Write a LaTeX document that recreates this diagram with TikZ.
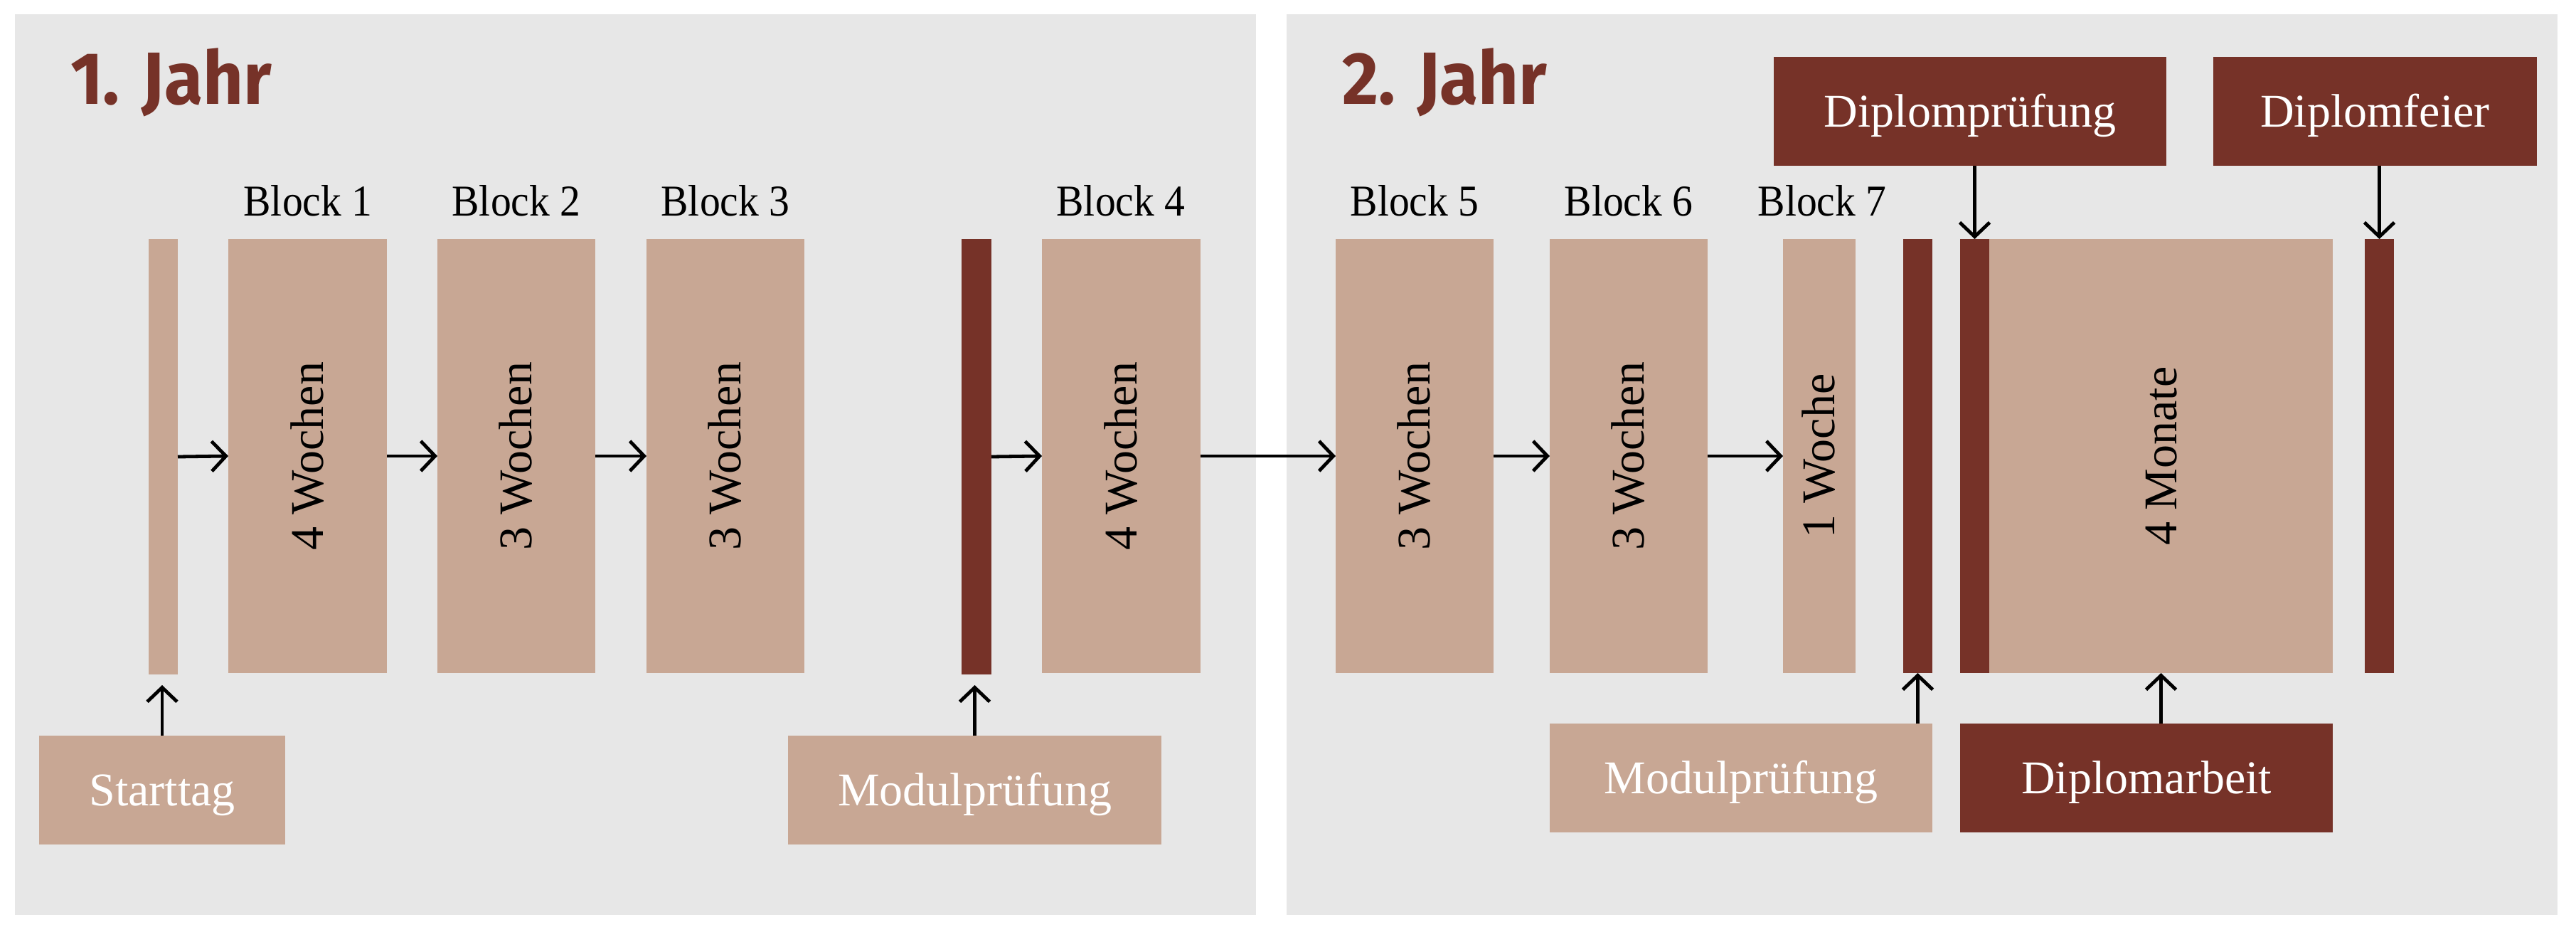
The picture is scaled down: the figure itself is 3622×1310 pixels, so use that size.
\documentclass[tikz,border=0pt]{standalone}
\usepackage{fontspec}
\setmainfont{Liberation Serif}
\newfontfamily\blockfont{Liberation Serif}[FakeStretch=0.93]
\newfontfamily\titlefont{Fira Sans}[FakeStretch=0.95]
\usetikzlibrary{fit,arrows.meta}
\definecolor{panelc}{HTML}{E7E7E7}
\definecolor{lightc}{HTML}{C8A794}
\definecolor{darkc}{HTML}{763228}
\begin{document}
\begin{tikzpicture}[x=0.5pt,y=-0.5pt,
  every node/.style={inner sep=0pt,outer sep=0pt},
  lbar/.style={fill=lightc,inner sep=0pt,fit={#1}},
  dbar/.style={fill=darkc,inner sep=0pt,fit={#1}},
  boxtext/.style={text=white,font=\fontsize{33}{38}\selectfont,
    text height=21.8pt,text depth=0pt},
  blabel/.style={font=\blockfont\fontsize{31}{36}\selectfont,anchor=base},
  rlabel/.style={font=\fontsize{33}{38}\selectfont,rotate=90,
    text height=21.8pt,text depth=0pt},
  yeartitle/.style={font=\titlefont\bfseries\fontsize{52}{60}\selectfont,
    text=darkc,anchor=base west},
  arr/.style={-{Straight Barb[length=10pt,width=21pt]},line width=2.4pt}]
\useasboundingbox (0,0) rectangle (3622,1310);
% panels
\fill[panelc] (21,20) rectangle (1766,1286);
\fill[panelc] (1809,20) rectangle (3596,1286);
% titles
\node[yeartitle] (t1) at (99,147) {1. Jahr};
\node[yeartitle] (t2) at (1887,147) {2. Jahr};
% bars and blocks
\node[lbar={(209,336) (250,948)}] (s0) {};
\node[lbar={(321,336) (544,946)}] (b1) {};
\node[lbar={(615,336) (837,946)}] (b2) {};
\node[lbar={(909,336) (1131,946)}] (b3) {};
\node[dbar={(1352,336) (1394,948)}] (m1) {};
\node[lbar={(1465,336) (1688,946)}] (b4) {};
\node[lbar={(1878,336) (2100,946)}] (b5) {};
\node[lbar={(2179,336) (2401,946)}] (b6) {};
\node[lbar={(2507,336) (2609,946)}] (b7) {};
\node[dbar={(2676,336) (2717,946)}] (m2) {};
\node[dbar={(2756,336) (2797,946)}] (dpb) {};
\node[lbar={(2797,336) (3280,946)}] (mon) {};
\node[dbar={(3325,336) (3366,946)}] (dfb) {};
% rotated texts
\node[rlabel] (r1) at (b1.center) {4 Wochen};
\node[rlabel] (r2) at (b2.center) {3 Wochen};
\node[rlabel] (r3) at (b3.center) {3 Wochen};
\node[rlabel] (r4) at (b4.center) {4 Wochen};
\node[rlabel] (r5) at (b5.center) {3 Wochen};
\node[rlabel] (r6) at (b6.center) {3 Wochen};
\node[rlabel] (r7) at (b7.center) {1 Woche};
\node[rlabel] (r8) at (mon.center) {4 Monate};
% block labels
\node[blabel] (l1) at (433,304) {Block 1};
\node[blabel] (l2) at (726,304) {Block 2};
\node[blabel] (l3) at (1020,304) {Block 3};
\node[blabel] (l4) at (1576,304) {Block 4};
\node[blabel] (l5) at (1989,304) {Block 5};
\node[blabel] (l6) at (2290,304) {Block 6};
\node[blabel] (l7) at (2562,304) {Block 7};
% boxes
\node[lbar={(55,1034) (401,1187)}] (st) {};
\node[lbar={(1108,1034) (1633,1187)}] (mp1) {};
\node[lbar={(2179,1017) (2717,1170)}] (mp2) {};
\node[dbar={(2756,1017) (3280,1170)}] (da) {};
\node[dbar={(2494,80) (3046,233)}] (dp) {};
\node[dbar={(3112,80) (3567,233)}] (df) {};
\node[boxtext] (stt) at (st.center) {Starttag};
\node[boxtext] (mp1t) at (mp1.center) {Modulprüfung};
\node[boxtext] (mp2t) at (mp2.center) {Modulprüfung};
\node[boxtext] (dat) at (da.center) {Diplomarbeit};
\node[boxtext] (dpt) at (dp.center) {Diplomprüfung};
\node[boxtext] (dft) at (df.center) {Diplomfeier};
% horizontal arrows
\draw[arr] (s0.east) -- (b1.west);
\draw[arr] (b1.east) -- (b2.west);
\draw[arr] (b2.east) -- (b3.west);
\draw[arr] (m1.east) -- (b4.west);
\draw[arr] (b4.east) -- (b5.west);
\draw[arr] (b5.east) -- (b6.west);
\draw[arr] (b6.east) -- (b7.west);
% vertical arrows
\draw[arr,shorten >=7.5pt] (st.north) -- (st.north |- s0.south);
\draw[arr,shorten >=7.5pt] (mp1.north) -- (mp1.north |- m1.south);
\draw[arr] (mp2.north -| m2.south) -- (m2.south);
\draw[arr] (da.north -| mon.south) -- (mon.south);
\draw[arr] (dp.south -| dpb.north) -- (dpb.north);
\draw[arr] (df.south -| dfb.north) -- (dfb.north);
\end{tikzpicture}
\end{document}
